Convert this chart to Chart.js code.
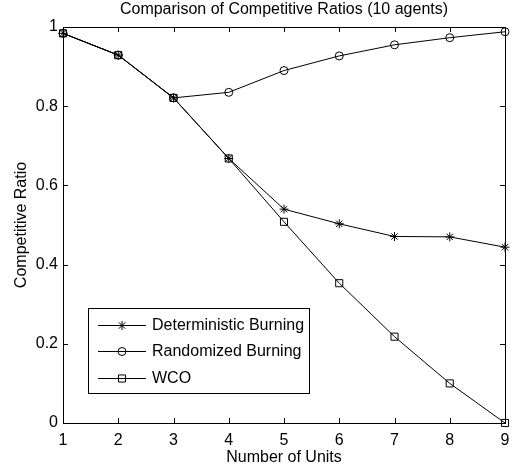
<!DOCTYPE html>
<html>
<head>
<meta charset="utf-8">
<script src="https://cdn.jsdelivr.net/npm/chart.js@4/dist/chart.umd.min.js"></script>
<style>
  html, body { margin: 0; padding: 0; background: #fff; }
  #wrap { width: 518px; height: 470px; }
</style>
</head>
<body>
<div id="wrap"><canvas id="chart" width="518" height="470"></canvas></div>
<script>
const units = [1, 2, 3, 4, 5, 6, 7, 8, 9];
const deterministic = [0.984, 0.929, 0.821, 0.668, 0.540, 0.503, 0.471, 0.470, 0.444];
const randomized    = [0.984, 0.929, 0.821, 0.835, 0.890, 0.927, 0.955, 0.973, 0.988];
const wco           = [0.984, 0.929, 0.821, 0.668, 0.508, 0.353, 0.218, 0.100, 0.000];
const yTicks = [0, 0.2, 0.4, 0.6, 0.8, 1];

const FONT = "'Liberation Sans', Arial, sans-serif";
const FS = 16;
const toPoints = vals => units.map((u, i) => ({ x: u, y: vals[i] }));

const series = [
  { label: "Deterministic Burning", data: deterministic, marker: "star",   radius: 4.5 },
  { label: "Randomized Burning",    data: randomized,    marker: "circle", radius: 4 },
  { label: "WCO",                   data: wco,           marker: "rect",   radius: 5 }
];

// Draws the little marker glyph used in the legend box
function drawMarker(ctx, style, x, y, r) {
  ctx.beginPath();
  if (style === "circle") {
    ctx.arc(x, y, r, 0, Math.PI * 2);
  } else if (style === "rect") {
    const s = Math.SQRT1_2 * r;
    ctx.rect(x - s, y - s, 2 * s, 2 * s);
  } else {
    for (let a = 0; a < 4; a++) {
      const ang = a * Math.PI / 4;
      ctx.moveTo(x - Math.cos(ang) * r, y - Math.sin(ang) * r);
      ctx.lineTo(x + Math.cos(ang) * r, y + Math.sin(ang) * r);
    }
  }
  ctx.stroke();
}

const matlabFrame = {
  id: "matlabFrame",
  afterDatasetsDraw(chart) {
    const { ctx, chartArea: a, scales } = chart;
    ctx.save();
    ctx.strokeStyle = "#000";
    ctx.lineWidth = 1;
    ctx.strokeRect(Math.round(a.left) + 0.5, Math.round(a.top) + 0.5,
                   Math.round(a.right - a.left), Math.round(a.bottom - a.top));

    // inward ticks on all four sides
    const tl = 5;
    ctx.beginPath();
    units.forEach(u => {
      const px = Math.round(scales.x.getPixelForValue(u)) + 0.5;
      ctx.moveTo(px, a.bottom); ctx.lineTo(px, a.bottom - tl);
      ctx.moveTo(px, a.top);    ctx.lineTo(px, a.top + tl);
    });
    yTicks.forEach(v => {
      const py = Math.round(scales.y.getPixelForValue(v)) + 0.5;
      ctx.moveTo(a.left, py);  ctx.lineTo(a.left + tl, py);
      ctx.moveTo(a.right, py); ctx.lineTo(a.right - tl, py);
    });
    ctx.stroke();

    // title centred over the axes box
    ctx.fillStyle = "#000";
    ctx.font = FS + "px " + FONT;
    ctx.textAlign = "center";
    ctx.textBaseline = "middle";
    ctx.fillText("Comparison of Competitive Ratios (10 agents)", (a.left + a.right) / 2, 10);

    // legend box in the lower left
    const box = { x: 88.5, y: 308.5, w: 221, h: 85 };
    ctx.fillStyle = "#fff";
    ctx.fillRect(box.x, box.y, box.w, box.h);
    ctx.strokeRect(box.x, box.y, box.w, box.h);
    const rows = [325, 351, 378];
    series.forEach((s, i) => {
      const y = rows[i] + 0.5;
      ctx.beginPath();
      ctx.moveTo(98, y); ctx.lineTo(146, y);
      ctx.stroke();
      ctx.fillStyle = "#fff";
      drawMarker(ctx, s.marker, 122, y, s.radius);
      ctx.fillStyle = "#000";
      ctx.textAlign = "left";
      ctx.fillText(s.label, 152, rows[i] + 1);
    });
    ctx.restore();
  }
};

new Chart(document.getElementById("chart"), {
  type: "line",
  data: {
    datasets: series.map(s => ({
      label: s.label,
      data: toPoints(s.data),
      borderColor: "#000",
      borderWidth: 1,
      pointStyle: s.marker,
      pointRadius: s.radius,
      pointBorderColor: "#000",
      pointBorderWidth: 1,
      pointBackgroundColor: "rgba(0,0,0,0)",
      tension: 0,
      fill: false,
      clip: false
    }))
  },
  options: {
    responsive: false,
    animation: false,
    layout: { padding: { top: 27, right: 13, left: 0, bottom: 0 } },
    plugins: {
      legend: { display: false },
      tooltip: { enabled: false }
    },
    scales: {
      x: {
        type: "linear",
        min: 1, max: 9,
        afterFit: s => { s.height = 47; },
        ticks: { stepSize: 1, color: "#000", padding: 8, font: { family: FONT, size: FS } },
        grid: { display: false, drawTicks: false },
        border: { display: false },
        title: { display: true, text: "Number of Units", color: "#000",
                 font: { family: FONT, size: FS }, padding: { top: 0, bottom: 3 } }
      },
      y: {
        min: 0, max: 1,
        afterFit: s => { s.width = 63; },
        afterBuildTicks: s => { s.ticks = yTicks.map(v => ({ value: v })); },
        ticks: { color: "#000", padding: 5, font: { family: FONT, size: FS },
                 callback: v => String(Number(v.toFixed(1))) },
        grid: { display: false, drawTicks: false },
        border: { display: false },
        title: { display: true, text: "Competitive Ratio", color: "#000",
                 font: { family: FONT, size: FS }, padding: { top: 12, bottom: 0 } }
      }
    }
  },
  plugins: [matlabFrame]
});
</script>
</body>
</html>
